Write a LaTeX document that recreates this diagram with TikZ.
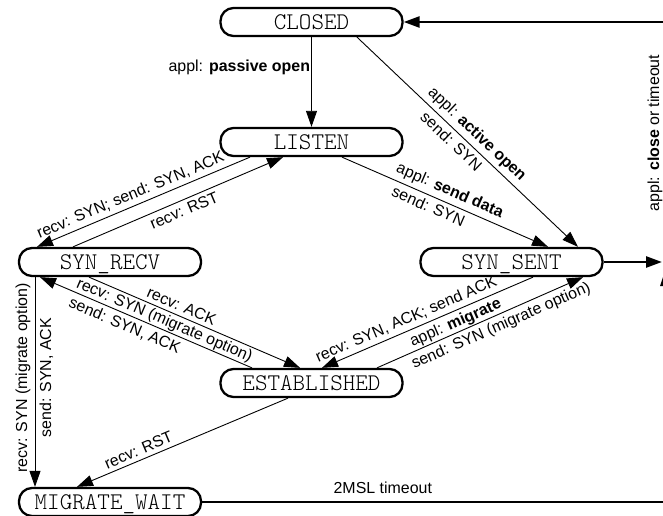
\documentclass[tikz,border=0pt]{standalone}
\usepackage{fontspec}
\newfontfamily\labelfont{Liberation Sans}
\newfontfamily\statefont{Latin Modern Mono Light}
\usetikzlibrary{arrows.meta,calc}

\begin{document}
\begin{tikzpicture}[x=1bp,y=-1bp,
  state/.style={draw, line width=2.3bp, rounded corners=13bp,
    minimum width=182bp, minimum height=28bp, inner sep=0pt,
    text height=14.6bp, text depth=0bp,
    font=\statefont\fontsize{24}{24}\selectfont},
  tip/.style={-{Triangle[length=16bp,width=11bp]}},
  revtip/.style={{Triangle[length=16bp,width=11bp]}-},
  trans/.style={line width=0.9bp, tip},
  backtrans/.style={line width=0.9bp, revtip},
  heavy/.style={line width=2.5bp},
  lbl/.style={font=\labelfont\fontsize{16}{16}\selectfont, inner sep=1bp},
]
\useasboundingbox (0,0) rectangle (663,516);
\clip (0,0) rectangle (663,516);

% states
\node[state] (closed) at (311.5,22)  {CLOSED};
\node[state] (listen) at (311.5,142) {LISTEN};
\node[state] (recv)   at (110,262)   {SYN\_RECV};
\node[state] (sent)   at (511.5,262) {SYN\_SENT};
\node[state] (est)    at (311.5,383) {ESTABLISHED};
\node[state] (mig)    at (110,502)   {MIGRATE\_WAIT};

% loose ends running off the right side
\coordinate (offtop) at (680,22);
\coordinate (offmid) at (662,262);
\coordinate (offbot) at (680,502);

% passive open
\draw[trans] (closed.south) --
  node[lbl, pos=0.34, left=0bp] {appl: \textbf{passive open}} (listen.north);

% active open
\draw[trans] ([xshift=45.5bp]closed.south) --
  node[lbl, sloped, above=3bp, pos=0.505] {appl: \textbf{active open}}
  node[lbl, sloped, below=3bp, pos=0.46] {send: SYN}
  ([xshift=66.5bp]sent.north);

% send data
\draw[trans] ([xshift=30.5bp]listen.south) --
  node[lbl, sloped, above=3bp, pos=0.5] {appl: \textbf{send data}}
  node[lbl, sloped, below=3bp, pos=0.44] {send: SYN}
  ([xshift=36.5bp]sent.north);

% LISTEN -> SYN_RECV
\draw[backtrans] ([xshift=-73bp]recv.north) --
  node[lbl, sloped, above=3bp, pos=0.46] {recv: SYN; send: SYN, ACK}
  ([xshift=-61.5bp]listen.south);

% SYN_RECV -> LISTEN
\draw[trans] ([xshift=-37bp]recv.north) --
  node[lbl, sloped, below=3bp, pos=0.51] {recv: RST}
  ([xshift=-28.5bp]listen.south);

% SYN_RECV -> ESTABLISHED
\draw[trans] ([xshift=-21bp]recv.south) --
  node[lbl, sloped, above=3bp, pos=0.42] {recv: ACK}
  ([xshift=-11.5bp]est.north);

% ESTABLISHED -> SYN_RECV
\draw[backtrans] ([xshift=-70bp]recv.south) --
  node[lbl, sloped, above=0bp, pos=0.57] {recv: SYN (migrate option)}
  node[lbl, sloped, below=3bp, pos=0.42] {send: SYN, ACK}
  ([xshift=-59.5bp]est.north);

% SYN_SENT -> ESTABLISHED
\draw[backtrans] ([xshift=10.5bp]est.north) --
  node[lbl, sloped, above=3bp, pos=0.42] {recv: SYN, ACK; send ACK}
  ([xshift=21.5bp]sent.south);

% ESTABLISHED -> SYN_SENT
\draw[trans] ([xshift=65.5bp]est.north) --
  node[lbl, sloped, above=0bp, pos=0.40] {appl: \textbf{migrate}}
  node[lbl, sloped, below=3bp, pos=0.58] {send: SYN (migrate option)}
  ([xshift=71.5bp]sent.south);

% ESTABLISHED -> MIGRATE_WAIT
\draw[backtrans] ([xshift=-33bp]mig.north) --
  node[lbl, sloped, above=3bp, pos=0.31] {recv: RST}
  ([xshift=-23.5bp]est.south);

% SYN_RECV -> MIGRATE_WAIT
\draw[backtrans] ([xshift=-75bp]mig.north) --
  node[lbl, sloped, above=3bp, pos=0.52] {recv: SYN (migrate option)}
  node[lbl, sloped, below=3bp, pos=0.52] {send: SYN, ACK}
  ([xshift=-75bp]recv.south);

% heavy connections to the rest of the machine
\draw[heavy, tip] (offtop) -- (closed.east);
\draw[heavy, tip] (sent.east) -- (offmid);
\draw[heavy] (mig.east) --
  node[lbl, above=6bp, pos=0.378] {2MSL timeout} (offbot);

\node[lbl, rotate=90] (closelbl) at (655,133) {appl: \textbf{close} or timeout};

% edge of an arrowhead cut by the border
\fill (660,286) -- (666,268) -- (672,286) -- cycle;
\end{tikzpicture}
\end{document}
